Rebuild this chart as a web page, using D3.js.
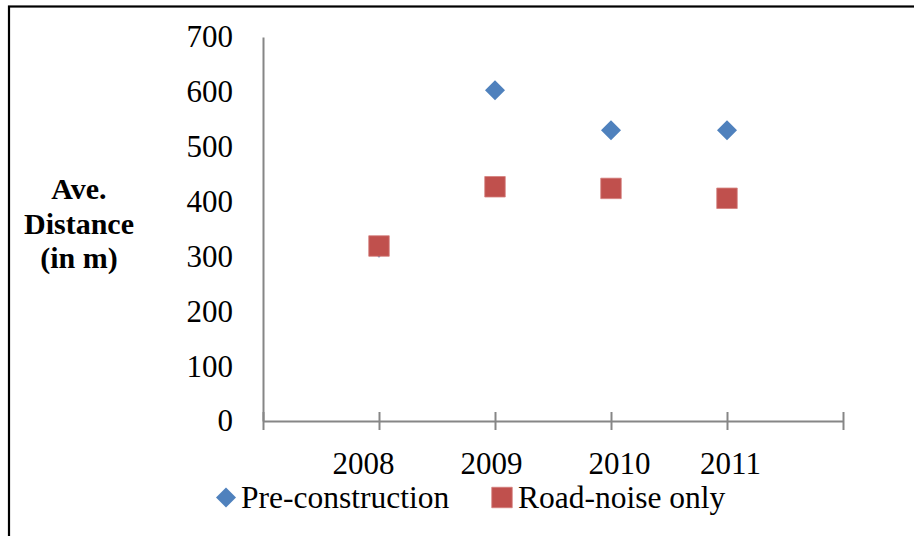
<!DOCTYPE html>
<html>
<head>
<meta charset="utf-8">
<script src="https://cdn.jsdelivr.net/npm/d3@7"></script>
<style>
  body { margin: 0; background: #fff; }
  svg { display: block; font-family: "Liberation Serif", "Times New Roman", serif; }
</style>
</head>
<body>
<div class="parentChart"></div>
<script>
// chart data
let years = [2008, 2009, 2010, 2011];
let preConstruction = [316, 603, 530, 530];
let roadNoiseOnly = [319, 427, 424, 406];
let yTicks = [0, 100, 200, 300, 400, 500, 600, 700];
let xTicks = [2007, 2008, 2009, 2010, 2011, 2012];
let xLabels = ["", "2008", "2009", "2010", "2011", ""];
let seriesNames = ["Pre-construction", "Road-noise only"];
let titleLines = ["Ave.", "Distance", "(in m)"];

// layout
let attrs = {
  width: 914,
  height: 536,
  left: 263,
  right: 843,
  top: 37,
  bottom: 421,
  axisColor: "#868686",
  blue: "#4F81BD",
  red: "#C0504D",
  font: "'Liberation Serif', 'Times New Roman', serif",
  fontSize: 31,
  legendSize: 31.5,
  titleSize: 30,
};
// small horizontal nudges of the year labels, as they sit in the original
let labelShift = [0, -16, -4, 8, 3, 0];

let svg = d3
  .select(".parentChart")
  .append("svg")
  .attr("width", attrs.width)
  .attr("height", attrs.height)
  .attr("font-family", attrs.font);

// outer frame (right and bottom sides fall outside the picture)
svg
  .append("rect")
  .attr("x", 9)
  .attr("y", 6.5)
  .attr("width", 940)
  .attr("height", 600)
  .attr("fill", "#fff")
  .attr("stroke", "#000")
  .attr("stroke-width", 2.2);

let x = d3.scaleLinear().domain([2007, 2012]).range([attrs.left, attrs.right]);
let y = d3.scaleLinear().domain([0, 700]).range([attrs.bottom, attrs.top]);

// y axis
let yAxis = svg
  .append("g")
  .attr("transform", "translate(" + attrs.left + ",0)")
  .call(d3.axisLeft(y).tickValues(yTicks).tickSize(0).tickPadding(30));
yAxis.select(".domain").attr("stroke", attrs.axisColor).attr("stroke-width", 2);
yAxis
  .attr("font-family", attrs.font)
  .selectAll("text")
  .attr("font-size", attrs.fontSize)
  .attr("fill", "#000");

// x axis with cross tick marks
let xAxis = svg
  .append("g")
  .attr("transform", "translate(0," + attrs.bottom + ")")
  .call(
    d3
      .axisBottom(x)
      .tickValues(xTicks)
      .tickSizeOuter(0)
      .tickSizeInner(9)
      .tickFormat((d, i) => xLabels[i])
  );
xAxis.attr("font-family", attrs.font);
xAxis.select(".domain").attr("stroke", attrs.axisColor).attr("stroke-width", 2);
xAxis
  .selectAll(".tick line")
  .attr("y1", -9)
  .attr("y2", 9)
  .attr("stroke", attrs.axisColor)
  .attr("stroke-width", 2);
xAxis
  .selectAll("text")
  .attr("font-size", attrs.fontSize)
  .attr("fill", "#000")
  .attr("y", 53)
  .attr("dy", 0)
  .attr("dx", (d, i) => labelShift[i]);

// axis title
svg
  .append("text")
  .attr("text-anchor", "middle")
  .attr("font-family", attrs.font)
  .attr("font-weight", "bold")
  .attr("font-size", attrs.titleSize)
  .selectAll("tspan")
  .data(titleLines)
  .enter()
  .append("tspan")
  .attr("x", 79)
  .attr("y", (d, i) => 199 + i * 34.5)
  .text((d) => d);

let diamond = d3.symbol().type(d3.symbolSquare).size(200);
let square = d3.symbol().type(d3.symbolSquare).size(420);

// pre-construction markers (drawn first, squares sit on top)
svg
  .selectAll(".pre")
  .data(years)
  .enter()
  .append("path")
  .attr("class", "pre")
  .attr("d", diamond)
  .attr("transform", (d, i) => "translate(" + x(d) + "," + y(preConstruction[i]) + ") rotate(45)")
  .attr("fill", attrs.blue);

// road-noise markers
svg
  .selectAll(".road")
  .data(years)
  .enter()
  .append("path")
  .attr("class", "road")
  .attr("d", square)
  .attr("transform", (d, i) => "translate(" + x(d) + "," + y(roadNoiseOnly[i]) + ")")
  .attr("fill", attrs.red)
  .attr("stroke", "#d47f7c")
  .attr("stroke-width", 0.8);

// legend
let legend = svg.append("g").attr("font-family", attrs.font);
legend
  .append("path")
  .attr("d", diamond)
  .attr("transform", "translate(226,497.5) rotate(45)")
  .attr("fill", attrs.blue);
legend
  .append("text")
  .attr("x", 241)
  .attr("y", 508)
  .attr("font-size", attrs.legendSize)
  .text(seriesNames[0]);
legend
  .append("path")
  .attr("d", square)
  .attr("transform", "translate(502,497.5)")
  .attr("fill", attrs.red)
  .attr("stroke", "#d47f7c")
  .attr("stroke-width", 0.8);
legend
  .append("text")
  .attr("x", 518)
  .attr("y", 508)
  .attr("font-size", attrs.legendSize)
  .text(seriesNames[1]);
</script>
</body>
</html>
